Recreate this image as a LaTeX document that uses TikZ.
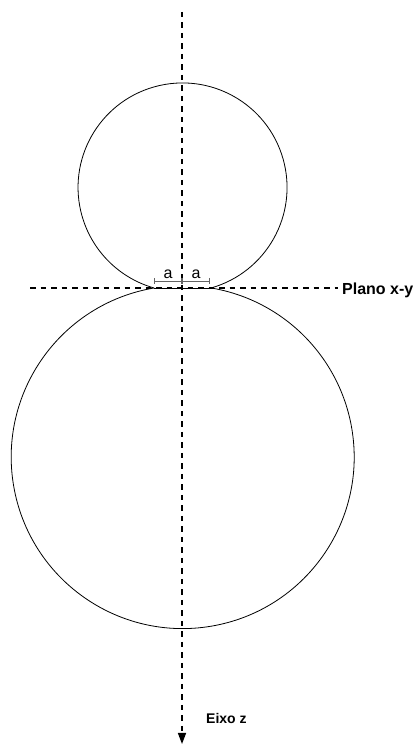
\documentclass[tikz,border=0pt]{standalone}
\usepackage{fontspec}
\setmainfont{Liberation Sans}
\usepackage{tikz}
\usetikzlibrary{arrows.meta,calc,positioning}
\definecolor{dimc}{RGB}{100,100,100}

\begin{document}
\begin{tikzpicture}[x=1pt,y=1pt,line join=round,
  axis/.style={line width=1.4pt,dash pattern=on 5.5pt off 5pt},
  outline/.style={line width=0.8pt},
  dim/.style={dimc,line width=0.7pt,{Bar[width=6pt]}-{Bar[width=6pt]}},
  dimlbl/.style={black,above=1.5pt,font=\fontsize{16}{18}\selectfont,inner sep=0pt},
  axlbl/.style={anchor=west,inner sep=0pt,font=\fontsize{16}{19}\selectfont\bfseries}]
  \useasboundingbox (0,0) rectangle (419,745);
  % junction of the two lobes (length 2a)
  \coordinate (L) at (154,457); \coordinate (R) at (211,457);
  \draw[outline] (R) arc[start angle=-74.2,end angle=254.2,radius=104.5]
                     arc[start angle=99.6,end angle=440.4,radius=171.5];
  \draw[outline] (L) -- (R);
  % axes
  \coordinate (ztop) at (182,733); \coordinate (zbot) at (182,1);
  \coordinate (xyleft) at (30,457);
  \node[axlbl] (plano) at (342,455) {Plano x-y};
  \node[axlbl,font=\fontsize{14}{17}\selectfont\bfseries] (eixo) at (206,27) {Eixo z};
  \draw[axis] (xyleft) -- ($(plano.west)+(-4,2)$);
  \draw[axis,-{Triangle[width=8pt,length=11pt]}] (ztop) -- (zbot);
  % a | a
  \coordinate (dl) at (154,464); \coordinate (dm) at (182,464); \coordinate (dr) at (210,464);
  \draw[dim] (dl) -- node[dimlbl] (aleft) {a} (dm);
  \draw[dim] (dm) -- node[dimlbl] (aright) {a} (dr);
\end{tikzpicture}
\end{document}
